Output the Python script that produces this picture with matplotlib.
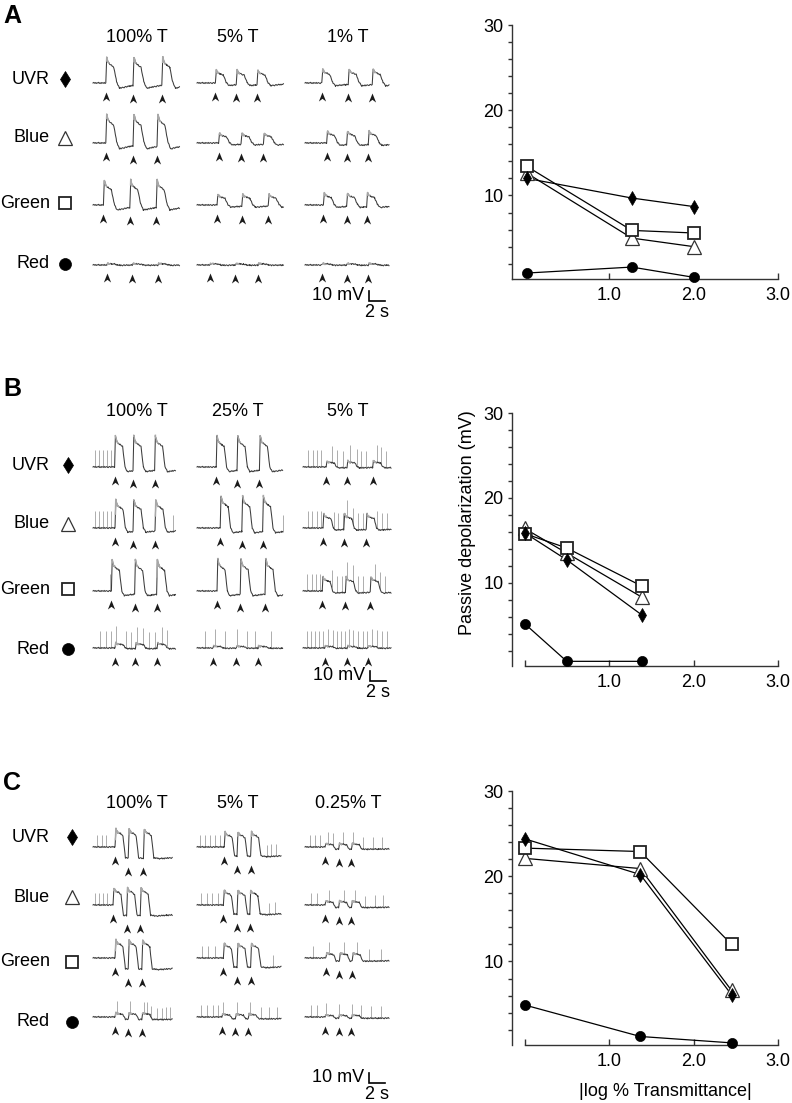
import numpy as np
import matplotlib
matplotlib.use('Agg')
from matplotlib import pyplot as plt
from matplotlib.path import Path
from matplotlib.ticker import MultipleLocator

plt.rcParams['font.family'] = ['Liberation Sans', 'DejaVu Sans']

# ---------------- data ----------------
ROWS = ['UVR', 'Blue', 'Green', 'Red']

COND_A = ['100% T', '5% T', '1% T']
COND_B = ['100% T', '25% T', '5% T']
COND_C = ['100% T', '5% T', '0.25% T']

# |log % transmittance| of each light level, right-hand plots
LOGT_A = [0.03, 1.27, 2.0]
LOGT_B = [0.0, 0.5, 1.39]
LOGT_C = [0.0, 1.37, 2.45]

# passive depolarization (mV), rows = UVR, Blue, Green, Red
DEPOL_A = [[12.0, 9.7, 8.7], [12.6, 5.0, 4.0], [13.4, 5.9, 5.6], [0.9, 1.6, 0.4]]
DEPOL_B = [[15.9, 12.7, 6.2], [16.4, 13.5, 8.3], [15.8, 14.1, 9.6], [5.2, 0.75, 0.75]]
DEPOL_C = [[24.4, 20.2, 6.1], [22.1, 20.9, 6.6], [23.3, 22.9, 12.0], [4.9, 1.2, 0.45]]

# recording length (s) of each column of traces
DUR_A = [10.9, 10.9, 10.6]
DUR_B = [10.4, 10.8, 11.1]
DUR_C = [10.0, 10.6, 10.6]

# stimulus onsets (s), [row][column]
STIM_A = [
    [[1.6, 5.0, 8.6], [2.3, 4.9, 7.5], [2.1, 5.4, 8.4]],
    [[1.6, 5.0, 8.0], [2.7, 5.5, 8.3], [2.7, 5.2, 7.9]],
    [[1.3, 4.6, 7.9], [2.5, 5.6, 8.9], [2.3, 5.2, 7.7]],
    [[1.7, 4.9, 8.1], [1.6, 4.8, 7.6], [2.1, 5.2, 7.9]],
]
STIM_B = [
    [[2.7, 5.0, 7.7], [2.4, 5.0, 7.8], [2.9, 5.5, 8.7]],
    [[2.75, 5.0, 7.75], [2.9, 5.6, 8.2], [2.5, 5.1, 7.9]],
    [[2.3, 5.2, 7.95], [2.5, 5.4, 8.5], [2.4, 5.3, 8.4]],
    [[2.75, 5.3, 8.0], [2.0, 4.9, 7.6], [2.7, 5.5, 8.1]],
]
STIM_C = [
    [[2.75, 4.4, 6.3], [3.4, 5.0, 6.7], [2.5, 4.2, 5.8]],
    [[2.5, 4.2, 5.9], [3.3, 5.0, 6.6], [2.5, 4.2, 5.8]],
    [[2.75, 4.4, 6.1], [3.3, 5.0, 6.7], [2.6, 4.3, 5.9]],
    [[2.75, 4.4, 6.1], [3.1, 4.8, 6.4], [2.5, 4.2, 5.8]],
]

# response peak amplitude in the traces (mV), [row][column]
AMP_A = [[26, 13, 14], [29, 10, 12], [25, 11, 12], [1.5, 1.5, 1.5]]
AMP_B = [[31, 31, 6], [28, 32, 14], [31, 32, 14], [5, 2, 2]]
AMP_C = [[18, 15, 3.5], [17, 15, 4], [18, 15, 5], [4, 3, 2]]

# action potential times (s), [row][column]
SPIKES_B = [
    [[0.25, 0.8, 1.3, 1.8, 2.25], [],
     [0.67, 1.29, 1.71, 2.2, 3.6, 4.2, 5.0, 5.9, 6.7, 7.3, 7.9, 9.2, 9.8, 10.4]],
    [[0.3, 0.8, 1.3, 1.8, 2.3, 10.0], [10.7],
     [0.67, 1.08, 1.71, 2.21, 3.88, 4.42, 4.96, 5.46, 6.29, 6.92, 7.54, 9.21, 9.83, 10.46]],
    [[2.1], [],
     [0.46, 1.08, 1.63, 2.13, 3.58, 4.21, 4.83, 5.54, 6.29, 6.92, 7.54, 9.0, 9.63, 10.25]],
    [[0.9, 1.6, 2.3, 2.9, 4.1, 4.8, 5.5, 6.3, 7.0, 7.8, 8.6, 9.2],
     [1.0, 2.3, 3.5, 5.0, 6.2, 7.3, 9.3],
     [0.46, 0.96, 1.5, 2.04, 2.54, 3.17, 3.71, 4.21, 4.71, 5.25, 5.79, 6.29, 6.92,
      7.46, 7.96, 8.58, 9.21, 9.83, 10.46]],
]
SPIKES_C = [
    [[0.46, 1.08, 1.63], [0.4, 1.0, 1.6, 2.25, 2.9, 8.7, 9.3, 9.9],
     [0.6, 1.25, 1.9, 2.9, 3.5, 4.8, 6.0, 7.3, 8.5, 9.6]],
    [[0.25, 0.75, 1.29, 1.79], [0.5, 1.2, 1.9, 2.6, 9.0, 9.8],
     [0.8, 1.5, 3.0, 4.9, 6.3, 7.5, 8.8, 9.8]],
    [[], [0.6, 1.4, 2.2, 9.5], [1.0, 3.0, 4.9, 6.5, 8.0, 9.5]],
    [[3.0, 4.6, 6.4, 6.7, 7.3, 7.96, 8.6, 9.1, 9.6],
     [0.5, 1.2, 2.0, 2.6, 3.3, 5.0, 6.6, 8.0, 9.0, 10.0],
     [0.7, 1.5, 2.6, 4.3, 5.9, 7.0, 8.2, 9.5]],
]
SPIKES_A = [[[], [], []] for _ in ROWS]

# shape of one light response (time after onset in s, fraction of peak)
RESP_A_T = [0, 0.12, 0.3, 0.6, 1.0, 1.35, 1.7, 3.0, 5.0]
RESP_A_V = [0, 1.0, 0.78, 0.7, 0.6, 0.05, -0.2, -0.12, -0.05]
RESP_B_T = [0, 0.1, 0.3, 0.7, 1.0, 1.3, 1.6, 3.0, 5.0]
RESP_B_V = [0, 1.0, 0.8, 0.72, 0.66, 0.0, -0.15, -0.1, -0.05]
RESP_C_T = [0, 0.12, 0.35, 0.7, 1.0, 1.3, 2.0, 5.0, 9.0]
RESP_C_V = [0, 1.0, 0.8, 0.75, 0.6, -0.6, -0.65, -0.55, -0.35]

# small baseline ripple (mV)
WIGGLE = [0.0, 0.6, -0.2, 0.4, -0.5, 0.3, -0.1, 0.7, -0.4, 0.2, -0.6, 0.5,
          0.0, -0.3, 0.6, -0.5, 0.1, 0.4, -0.2, -0.6, 0.3, 0.5, -0.4]

# ---------------- layout (pixels) ----------------
W, H = 792, 1103
PX_S = 8.0     # px per second in the traces
PX_MV = 1.0    # px per mV in the traces

fig = plt.figure(figsize=(W / 100, H / 100), dpi=100)


def px_axes(left, top, width, height):
    return fig.add_axes([left / W, 1 - (top + height) / H, width / W, height / H])


lay = px_axes(0, 0, W, H)
lay.set_xlim(0, W)
lay.set_ylim(H, 0)
lay.axis('off')

ARROW = Path([(0, 0), (0.4, -1), (0, -0.7), (-0.4, -1), (0, 0)],
             [Path.MOVETO, Path.LINETO, Path.LINETO, Path.LINETO, Path.CLOSEPOLY])


def make_trace(dur, stims, amp, tt, tv):
    grid = np.arange(0.0, dur, 0.1)
    extra = [s + x for s in stims for x in tt if s + x < dur]
    t = np.unique(np.concatenate([grid, extra]))
    v = np.zeros_like(t)
    prev = 0.0
    for k, s in enumerate(stims):
        end = stims[k + 1] if k + 1 < len(stims) else dur + 1.0
        m = (t >= s) & (t < end)
        dt = t[m] - s
        v[m] = amp * np.interp(dt, tt, tv) + prev * np.clip(1 - dt / tt[1], 0, 1)
        prev = amp * np.interp(end - s, tt, tv)
    return t, v


panels = [
    dict(letter='A', cond=COND_A, stim=STIM_A, amp=AMP_A, spikes=SPIKES_A, dur=DUR_A,
         tt=RESP_A_T, tv=RESP_A_V, spike_h=0, logt=LOGT_A, depol=DEPOL_A,
         letter_y=16, head_y=37, label_y=[79, 138, 203, 264], key_x=65,
         base_y=[83, 143, 205, 265], col_x=[93, 197, 305],
         bar_x=8.0, bar_y=-35.7, ax_top=25, ax_bot=279, zero_tick=False),
    dict(letter='B', cond=COND_B, stim=STIM_B, amp=AMP_B, spikes=SPIKES_B, dur=DUR_B,
         tt=RESP_B_T, tv=RESP_B_V, spike_h=17, logt=LOGT_B, depol=DEPOL_B,
         letter_y=389, head_y=412, label_y=[465, 524, 589, 649], key_x=68,
         base_y=[467, 528, 591, 648], col_x=[93, 197, 303],
         bar_x=8.4, bar_y=-33, ax_top=413, ax_bot=666, zero_tick=True),
    dict(letter='C', cond=COND_C, stim=STIM_C, amp=AMP_C, spikes=SPIKES_C, dur=DUR_C,
         tt=RESP_C_T, tv=RESP_C_V, spike_h=12, logt=LOGT_C, depol=DEPOL_C,
         letter_y=783, head_y=803, label_y=[837, 897, 962, 1022], key_x=72,
         base_y=[847, 905, 958, 1017], col_x=[93, 197, 305],
         bar_x=8.0, bar_y=-66, ax_top=791, ax_bot=1045, zero_tick=True),
]

HEAD_X = [137, 238, 348]
KEY_STYLE = [
    dict(marker='d', ms=7.8, mfc='black', mec='black', mew=0.5),
    dict(marker='^', ms=10.5, mfc='white', mec='#333333', mew=0.9),
    dict(marker='s', ms=9.2, mfc='white', mec='#222222', mew=1.3),
    dict(marker='o', ms=8.6, mfc='black', mec='black', mew=0.5),
]
PLOT_STYLE = [
    dict(marker='d', ms=7.2, mfc='black', mec='black', mew=0.5, zorder=6),
    dict(marker='^', ms=9.8, mfc='white', mec='#333333', mew=0.9, zorder=4),
    dict(marker='s', ms=9.0, mfc='white', mec='#222222', mew=1.3, zorder=5),
    dict(marker='o', ms=7.3, mfc='black', mec='black', mew=0.5, zorder=3),
]
FS = 13

for p in panels:
    lay.text(3, p['letter_y'], p['letter'], fontsize=18, fontweight='bold',
             ha='left', va='center')
    for c, name in enumerate(p['cond']):
        lay.text(HEAD_X[c], p['head_y'], name, fontsize=FS, ha='center', va='center')
    for r, row in enumerate(ROWS):
        lay.text(50, p['label_y'][r], row, fontsize=FS, ha='right', va='center')
        lay.plot([p['key_x']], [p['label_y'][r]], linestyle='none', **KEY_STYLE[r])

    # traces
    for r in range(len(ROWS)):
        for c in range(3):
            dur = p['dur'][c]
            ax = px_axes(p['col_x'][c], p['base_y'][r] - 40, dur * PX_S, 70 * PX_MV)
            ax.set_xlim(0, dur)
            ax.set_ylim(-30, 40)
            ax.axis('off')
            stims = p['stim'][r][c]
            t, v = make_trace(dur, stims, p['amp'][r][c], p['tt'], p['tv'])
            vr = v + np.resize(WIGGLE, len(t))
            sp = p['spikes'][r][c]
            if sp:
                sv = np.interp(sp, t, v)
                ax.vlines(sp, sv, sv + p['spike_h'], color='#a0a0a0', lw=0.6, clip_on=False)
            ax.plot(t, vr, color='#3c3c3c', lw=0.75, clip_on=False)
            # fast rising part of each response looks pale in the recording
            for s in stims:
                m = (t >= s + 0.02) & (t <= s + 0.45)
                ax.plot(t[m], vr[m], color='#a8a8a8', lw=1.1, clip_on=False)
            tip = np.interp(np.array(stims) - 0.05, t, v) - 8.5
            ax.plot(stims, tip, linestyle='none', marker=ARROW, ms=13,
                    color='#1a1a1a', mew=0, clip_on=False)
            if r == 3 and c == 2:
                bx, by = p['bar_x'], p['bar_y']
                ax.plot([bx, bx, bx + 2], [by + 10, by, by], color='black', lw=1.2,
                        clip_on=False, solid_joinstyle='miter')
                ax.text(bx - 0.6, by + 5.5, '10 mV', fontsize=FS, ha='right', va='center')
                ax.text(bx + 1, by - 3, '2 s', fontsize=FS, ha='center', va='top')

    # summary plot
    ax = px_axes(512, p['ax_top'], 266, p['ax_bot'] - p['ax_top'])
    ax.set_xlim(-0.148, 3.0)
    ax.set_ylim(0.2, 30)
    ax.patch.set_alpha(0)
    for s in ['top', 'right']:
        ax.spines[s].set_visible(False)
    for s in ['left', 'bottom']:
        ax.spines[s].set_linewidth(1.0)
        ax.spines[s].set_color('#333333')
    if p['zero_tick']:
        ax.spines['bottom'].set_bounds(0, 3.0)
        ax.set_xticks([0, 1, 2, 3])
        ax.set_xticklabels(['', '1.0', '2.0', '3.0'])
    else:
        ax.set_xticks([1, 2, 3])
        ax.set_xticklabels(['1.0', '2.0', '3.0'])
    ax.set_yticks([10, 20, 30])
    ax.yaxis.set_minor_locator(MultipleLocator(2))
    ax.tick_params(axis='x', direction='in', length=4, width=1, pad=6,
                   labelsize=FS, color='#333333')
    ax.tick_params(axis='y', which='both', direction='out', length=3, width=1, pad=3,
                   labelsize=FS, color='#333333')
    for r in range(len(ROWS)):
        ax.plot(p['logt'], p['depol'][r], color='black', lw=0.9, zorder=2, clip_on=False)
    for r in [3, 1, 2, 0]:
        ax.plot(p['logt'], p['depol'][r], linestyle='none', clip_on=False, **PLOT_STYLE[r])

lay.text(467, 523, 'Passive depolarization (mV)', fontsize=FS, rotation=90,
         ha='center', va='center')
lay.text(665, 1091, '|log % Transmittance|', fontsize=FS, ha='center', va='center')

fig.savefig('out.png', dpi=100)
